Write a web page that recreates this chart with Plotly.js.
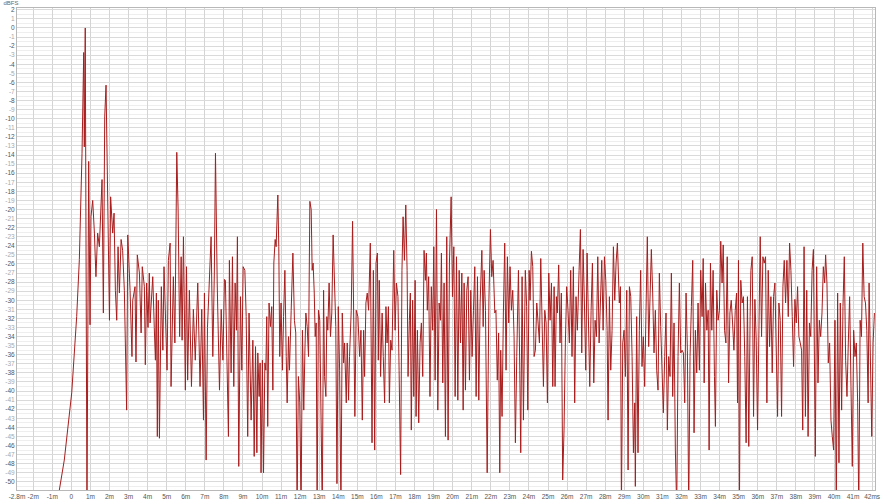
<!DOCTYPE html>
<html>
<head>
<meta charset="utf-8">
<script src="https://cdn.plot.ly/plotly-3.0.1.min.js"></script>
<style>html,body{margin:0;padding:0;background:#fff}#chart{width:884px;height:500px}</style>
</head>
<body>
<div id="chart"></div>
<script>
// Impulse response: time (ms) and level (dBFS)
const timeMs = [
-0.75,-0.63,-0.37,0.02,0.28,0.42,0.56,0.65,0.68,0.73,0.82,0.91,0.98,1.03,1.12,1.21,1.29,1.38,1.47,1.56,
1.61,1.68,1.75,1.82,1.87,1.94,2.0,2.06,2.17,2.24,2.31,2.38,2.45,2.52,2.61,2.69,2.78,2.9,2.96,3.08,
3.18,3.22,3.34,3.39,3.46,3.57,3.66,3.72,3.83,3.88,3.95,4.02,4.09,4.13,4.27,4.35,4.41,4.46,4.51,4.56,
4.62,4.72,4.8,4.86,4.95,5.02,5.09,5.18,5.23,5.35,5.43,5.53,5.6,5.68,5.76,5.81,5.88,5.98,6.04,6.1,
6.19,6.3,6.4,6.5,6.63,6.75,6.84,6.93,6.98,7.07,7.14,7.21,7.33,7.42,7.5,7.56,7.65,7.77,7.86,7.95,8.03,
8.08,8.17,8.24,8.29,8.38,8.45,8.52,8.59,8.66,8.71,8.78,8.87,8.94,9.01,9.1,9.17,9.25,9.32,9.43,9.52,
9.59,9.66,9.73,9.78,9.85,9.9,9.95,10.02,10.08,10.15,10.2,10.25,10.3,10.37,10.44,10.51,10.57,10.62,10.69,10.74,
10.83,10.88,10.93,11.0,11.07,11.13,11.2,11.27,11.32,11.39,11.44,11.53,11.62,11.7,11.77,11.84,11.91,11.98,12.05,12.12,
12.19,12.25,12.3,12.37,12.44,12.51,12.58,12.63,12.68,12.74,12.79,12.84,12.89,12.96,13.03,13.1,13.16,13.23,13.28,13.35,
13.4,13.45,13.52,13.59,13.66,13.73,13.8,13.87,13.93,14.0,14.07,14.14,14.21,14.28,14.33,14.42,14.47,14.54,14.59,14.68,
14.75,14.82,14.87,14.94,15.03,
15.12,15.19,15.26,15.33,15.38,15.45,15.52,15.59,15.68,15.77,15.84,15.91,15.98,16.05,16.1,16.15,16.22,16.3,16.36,16.43,
16.5,16.56,16.63,16.68,16.75,16.82,16.91,16.98,17.05,17.13,17.19,17.27,17.34,17.4,17.47,17.54,17.61,17.66,17.73,17.78,
17.83,17.9,17.96,18.03,18.08,18.15,18.22,18.29,18.36,18.43,18.5,18.57,18.62,18.67,18.74,18.81,18.88,18.95,19.01,19.08,
19.15,19.22,19.29,19.36,19.41,19.48,19.55,19.62,19.69,19.76,19.83,19.92,19.99,20.06,20.13,20.2,20.27,20.34,20.41,20.48,
20.55,20.6,20.67,20.74,20.81,20.88,20.95,21.02,21.09,21.16,21.23,21.3,21.37,21.44,21.53,21.6,21.65,21.72,21.81,21.9,
21.98,22.05,22.12,22.21,22.27,22.34,22.41,22.47,22.52,22.59,22.66,22.73,22.8,22.87,22.94,23.01,23.08,23.15,23.22,23.29,
23.36,23.45,23.52,23.57,23.64,23.71,23.76,23.81,23.88,23.94,24.01,24.06,24.13,24.2,24.27,24.34,24.41,24.48,24.55,24.62,
24.69,24.76,24.83,24.9,24.97,25.04,25.11,25.18,25.25,25.32,25.37,25.44,25.49,25.56,25.63,25.7,25.77,25.84,25.91,25.98,
26.05,26.12,26.19,26.26,26.33,26.4,26.47,26.54,26.63,26.7,26.77,26.84,26.91,26.98,27.05,27.12,27.19,27.26,27.33,27.4,
27.47,27.54,27.61,27.68,27.75,27.82,27.89,27.96,28.03,28.1,28.15,28.22,28.29,28.36,28.43,28.5,28.57,28.64,
28.74,28.8,28.85,28.92,28.99,29.06,29.13,29.2,29.27,29.34,29.41,29.48,29.55,29.58,29.65,29.72,29.79,29.86,29.93,30.0,
30.07,30.14,30.21,30.28,30.35,30.42,30.49,30.56,30.63,30.7,30.77,30.84,30.91,30.98,31.05,31.12,31.19,31.26,31.33,31.4,
31.47,31.54,31.61,31.68,31.75,31.82,31.89,31.96,32.03,32.1,32.17,32.24,32.31,32.38,32.45,32.52,32.59,32.66,32.73,32.8,
32.87,32.94,33.01,33.08,33.14,33.19,33.26,33.33,33.4,33.45,33.52,33.59,33.66,33.73,33.78,33.85,33.92,33.99,34.06,34.13,
34.19,34.26,34.33,34.4,34.47,34.54,34.61,34.68,34.75,34.82,34.89,34.94,34.99,35.04,35.11,35.18,35.25,35.32,35.39,35.46,35.53,
35.6,35.64,35.71,35.78,35.85,35.92,35.99,36.06,36.13,36.2,36.27,36.34,36.41,36.48,36.55,36.62,36.69,36.76,36.83,36.9,
36.97,37.04,37.11,37.18,37.25,37.32,37.39,37.46,37.53,37.6,37.67,37.74,37.81,37.88,37.95,38.02,38.09,38.16,38.23,38.3,
38.36,38.43,38.5,38.57,38.64,38.71,38.78,38.85,38.92,38.99,39.02,39.09,39.16,39.23,39.3,39.37,39.44,39.51,39.56,39.63,
39.7,39.77,39.84,39.91,39.98,40.05,40.12,40.19,40.26,40.33,40.4,40.47,40.54,40.61,40.68,40.75,40.82,40.89,40.96,41.03,
41.1,41.17,41.24,41.3,41.37,41.44,41.51,41.58,41.65,41.72,41.79,41.84,41.91,41.98,42.05,42.12
];
const levelDb = [
-53,-50.9,-47.6,-40.2,-31.8,-25.5,-13.8,-2.7,-13.1,0,-53,-14.7,-32.7,-20.8,-19,-22.6,-27.4,-22.6,-24.1,-19.7,
-16.7,-31.4,-9.8,-6.3,-13.8,-19.7,-32.2,-18.6,-22.6,-20.4,-28.9,-32.2,-24.1,-29.2,-23.3,-24.5,-28.9,-42.1,-22.8,-28.9,
-36.2,-30,-28.5,-36.8,-25,-27,-33.6,-26.3,-28.5,-37.1,-28.1,-33,-27,-32.5,-27.4,-33,-36.6,-29.2,-45,-30,
-45.2,-28.5,-35.5,-26.3,-33,-37.7,-25.6,-23.7,-39.5,-27.4,-34.7,-13.7,-20,-34,-25.2,-34.4,-23,-39.9,-26.3,-38.8,
-28.9,-39.5,-31,-36.6,-28.1,-39.5,-31,-43.2,-29.2,-47.6,-33,-29.2,-23,-36.2,-27,-13.8,-28.1,-39.9,-31,-36.6,-27.7,
-27.8,-38.4,-45,-25.6,-38,-25.2,-39.5,-28.1,-33.3,-23,-48.3,-29.6,-37.7,-26.3,-26.7,-31.8,-45,-31.4,-43.2,-34.4,
-47.2,-35.1,-46.8,-35.8,-40.6,-36.9,-49,-36.6,-49,-36.9,-37.7,-31.8,-43.9,-30.3,-32.9,-30.7,-39.9,-25.9,-23.3,-24.1,
-18.4,-24.1,-36.2,-30.3,-37.7,-31.8,-26.7,-36.2,-41.3,-34,-37.7,-31.1,-24.8,-32.2,-33.6,-53,-38.4,-41.3,-53,-33.3,
-42.1,-35.5,-31.4,-32.9,-36.2,-19.1,-20,-26.7,-25.9,-29.2,-34,-32.5,-53,-31.1,-32.2,-43.5,-53,-28.9,-38.4,-40.6,
-31.8,-33.3,-28.1,-34,-31.4,-22.8,-28.1,-32.9,-50.2,-30.7,-37.7,-53,-31.4,-36.9,-34.7,-41.3,-34.7,-41,-36.2,-31.1,
-21.3,-32.5,-42.8,-31.1,-31.8,
-36.2,-33.3,-43.2,-33.3,-38.4,-30.3,-29.2,-31.1,-23.7,-45.7,-26.7,-46.5,-25.9,-24.8,-36.6,-27.8,-38.4,-31.4,-36.2,-41.3,
-30.7,-34.7,-30.7,-41.3,-34.4,-35.5,-24.5,-33.3,-28.1,-29.6,-37.7,-49.2,-26.7,-20.8,-25.6,-19.5,-26.7,-38.4,-32.2,-29.2,
-44.3,-30,-40.6,-27.8,-42.8,-33.3,-43.5,-34.7,-32.5,-38.4,-24.5,-27.8,-24.8,-31.1,-27.4,-40.6,-28.5,-33.3,-24.1,-38.8,
-20,-42.1,-30.3,-32.2,-24.8,-39.1,-28.1,-45,-23,-45.4,-25.9,-18.6,-29.6,-24.1,-40.6,-25.2,-41,-26.7,-34.7,-27,
-42.1,-28.1,-39.9,-28.9,-27.4,-38.8,-28.9,-36.2,-31.1,-26.3,-40.6,-27.4,-41,-30.3,-24.5,-32.9,-26.7,-31.1,-49,-30,
-22.2,-27.4,-25.6,-31.4,-31.1,-38.8,-33.6,-49,-35.5,-42.8,-31.4,-23.7,-37.7,-25.2,-32.5,-26.3,-31.1,-28.9,-34,-45.7,
-36.2,-26.7,-37.7,-46.8,-27.4,-43.2,-34.7,-26.7,-30.7,-42.1,-26.7,-30,-24.6,-26.3,-36.2,-35.5,-30.3,-32.9,-34.7,-25.4,
-31.8,-39.5,-31.1,-32.5,-41.3,-27,-32.2,-28.1,-39.5,-28.5,-39.5,-29.6,-31.4,-26.1,-34.7,-29.2,-49.8,-44.3,-34.7,-28.5,
-31.1,-34.7,-26.7,-36.2,-26.3,-41.3,-29.6,-33.3,-26.7,-22.2,-35.8,-24.4,-30.3,-37.7,-24.8,-33.6,-39.5,-31.1,-25.9,-39.1,
-32.2,-34,-25.2,-34.7,-28.9,-25.6,-33.3,-25.2,-27.8,-33.3,-43.2,-29.6,-37.7,-33.3,-24.1,-30,-25.9,-23.7,
-30.3,-28.5,-53,-34.7,-33.3,-38.4,-28.9,-48.7,-28.5,-29.6,-36.2,-46.8,-41.3,-50.5,-31.8,-46.8,-33.3,-26.7,-37.3,-34,
-39.5,-31.4,-23,-35.1,-28.1,-24.4,-29.2,-35.8,-31.1,-37.7,-39.9,-27,-32.9,-38.4,-42.4,-36.2,-31.4,-44.3,-36.2,-38.4,
-27,-40.6,-32.5,-46.5,-53,-36.2,-28.1,-35.8,-35.5,-35.8,-41.3,-29.2,-35.5,-53,-36.2,-30.7,-25.6,-44.6,-33.3,-38,
-30.3,-37.7,-26.7,-31.8,-25.4,-39.1,-28.1,-33.3,-31.1,-46.5,-25.9,-33.3,-26.7,-38.4,-43.9,-28.9,-32.2,-31.1,-23.5,-28.1,
-23.9,-33.3,-34.7,-25.2,-39.1,-31.4,-30,-32.5,-35.5,-31.1,-29.2,-41.3,-25.6,-53,-27.8,-30.3,-29.6,-36.2,-45.7,-29.6,-46.1,
-31.8,-26.7,-25.2,-42.8,-29.9,-34.4,-44.3,-29.9,-23,-34,-25.2,-25.9,-25.2,-41.3,-26.7,-35.1,-29.6,-38,-29.6,-28.1,
-34.4,-42.8,-30.3,-32.2,-42.8,-28.5,-25.6,-30.3,-25.6,-31.8,-23.7,-26.7,-31.8,-37.3,-29.9,-32.5,-28.5,-34,-34.7,-35.5,
-44.3,-24.1,-42.8,-28.9,-45,-32.5,-34,-26.7,-24.4,-36.2,-47.2,-26.3,-39.1,-32.2,-34,-31.4,-26.3,-28.1,-25,-28.1,
-36.9,-34.7,-43.2,-45,-46.5,-32.2,-53,-29.2,-47.9,-30.3,-42.1,-30.7,-25.2,-36.6,-40.6,-34.7,-29.6,-39.5,-48.3,-33.3,
-36.2,-34.7,-41.3,-53,-32.2,-34,-23.7,-29.6,-30.3,-33.3,-41.3,-28.1,-36.9,-45,-34.7,-31.4
];

// Axis ticks
const xTickVals = [-2.85,-2,-1,0,1,2,3,4,5,6,7,8,9,10,11,12,13,14,15,16,17,18,19,20,21,22,23,24,25,26,27,28,29,30,31,32,33,34,35,36,37,38,39,40,41,42];
const xTickText = ['-2.8m','-2m','-1m','0','1m','2m','3m','4m','5m','6m','7m','8m','9m','10m','11m','12m','13m','14m','15m','16m','17m','18m','19m','20m','21m','22m','23m','24m','25m','26m','27m','28m','29m','30m','31m','32m','33m','34m','35m','36m','37m','38m','39m','40m','41m','42ms'];
const yTickVals = [];
for (let v = 2; v >= -50; v--) yTickVals.push(v);
const yTickText = yTickVals.map(v => (Math.abs(v) % 2 === 1)
  ? '<span style="color:#a8a8a8">' + v + '</span>'
  : String(v));

const trace = {
  x: timeMs, y: levelDb, type: 'scatter', mode: 'lines',
  line: {color: '#a81c1c', width: 1},
  hoverinfo: 'skip'
};

const layout = {
  width: 884, height: 500,
  margin: {l: 17, r: 9, t: 8, b: 10, pad: 0},
  paper_bgcolor: '#ffffff', plot_bgcolor: '#ffffff',
  showlegend: false,
  font: {family: 'Liberation Sans, Arial, sans-serif', size: 7, color: '#555555'},
  title: {text: 'dBFS', x: 0.004, xref: 'container', xanchor: 'left', y: 0.998, yref: 'container', yanchor: 'top',
          font: {size: 6, color: '#666666'}},
  xaxis: {
    range: [-2.85, 42.15], tickmode: 'array', tickvals: xTickVals, ticktext: xTickText,
    tickangle: 0, automargin: false,
    showgrid: true, gridcolor: '#d4d4d4', gridwidth: 1, zeroline: false,
    showline: true, linecolor: '#b8b8b8', linewidth: 1, mirror: true,
    ticks: '', tickfont: {size: 6.5, color: '#555555'}, fixedrange: true
  },
  yaxis: {
    range: [-50.9, 2.2], tickmode: 'array', tickvals: yTickVals, ticktext: yTickText,
    automargin: false,
    showgrid: true, gridcolor: '#dadada', gridwidth: 1, zeroline: false,
    showline: true, linecolor: '#b8b8b8', linewidth: 1, mirror: true,
    ticks: '', tickfont: {size: 6.5, color: '#555555'}, fixedrange: true,
    minor: {tickmode: 'linear', tick0: 0.5, dtick: 1, showgrid: true, gridcolor: '#eeeeee', ticks: ''}
  }
};

Plotly.newPlot('chart', [trace], layout, {staticPlot: true, displayModeBar: false});
</script>
</body>
</html>
